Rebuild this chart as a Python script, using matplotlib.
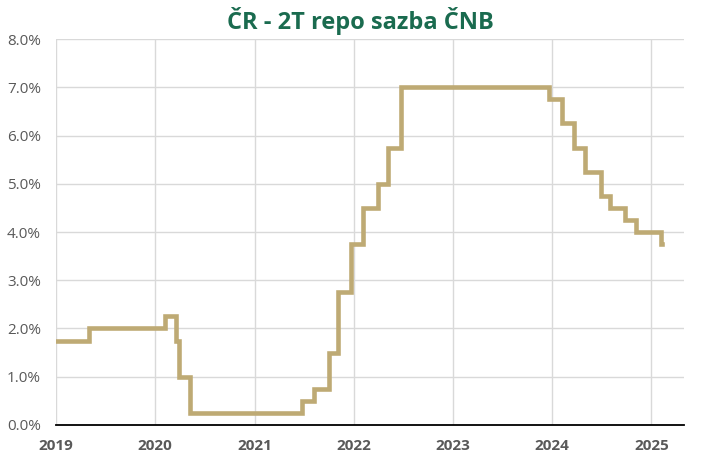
import pandas as pd
import matplotlib.pyplot as plt
import matplotlib.dates as mdates
from matplotlib.ticker import FuncFormatter

# CNB 2T repo rate changes (date of change, new rate in %)
dates = ["2019-01-01", "2019-05-03", "2020-02-07", "2020-03-17", "2020-03-27",
         "2020-05-08", "2021-06-24", "2021-08-06", "2021-10-01", "2021-11-05",
         "2021-12-23", "2022-02-03", "2022-03-31", "2022-05-06", "2022-06-23",
         "2023-12-21", "2024-02-08", "2024-03-21", "2024-05-03", "2024-06-28",
         "2024-08-02", "2024-09-26", "2024-11-07", "2025-02-07", "2025-02-10"]
rates = [1.75, 2.00, 2.25, 1.75, 1.00,
         0.25, 0.50, 0.75, 1.50, 2.75,
         3.75, 4.50, 5.00, 5.75, 7.00,
         6.75, 6.25, 5.75, 5.25, 4.75,
         4.50, 4.25, 4.00, 3.75, 3.75]
years = [2019, 2020, 2021, 2022, 2023, 2024, 2025]

x = pd.to_datetime(dates)

fig = plt.figure(figsize=(7.2, 4.73), dpi=100)
ax = fig.add_axes([0.078, 0.1015, 0.872, 0.816])

ax.plot(x, rates, drawstyle="steps-post", color="#BEAA74", lw=3.3,
        solid_joinstyle="miter", zorder=3)

ax.set_xlim(pd.Timestamp("2019-01-01"), pd.Timestamp("2025-05-01"))
ax.set_ylim(0, 8)
ax.set_yticks(range(0, 9))
ax.yaxis.set_major_formatter(FuncFormatter(lambda v, p: f"{v:.1f}%"))
ax.set_xticks([pd.Timestamp(f"{y}-01-01") for y in years])
ax.xaxis.set_major_formatter(mdates.DateFormatter("%Y"))

ax.grid(True, color="#D9D9D9", lw=1)
ax.set_axisbelow(True)
for s in ["top", "right", "left"]:
    ax.spines[s].set_visible(False)
ax.spines["bottom"].set_color("#000000")
ax.spines["bottom"].set_linewidth(1.3)
ax.spines["bottom"].set_zorder(4)
ax.tick_params(axis="y", length=0, pad=11)
ax.tick_params(axis="x", length=0, pad=10)
for lab in ax.get_yticklabels():
    lab.set_color("#595959")
    lab.set_fontsize(11)
    lab.set_family("Open Sans")
for lab in ax.get_xticklabels():
    lab.set_color("#595959")
    lab.set_fontsize(11)
    lab.set_fontweight("bold")
    lab.set_family("Open Sans")

fig.suptitle("ČR - 2T repo sazba ČNB", x=0.5, y=0.985, fontsize=17,
             fontweight="bold", color="#1A6B4F", family="Open Sans")

fig.savefig("out.png", dpi=100)
